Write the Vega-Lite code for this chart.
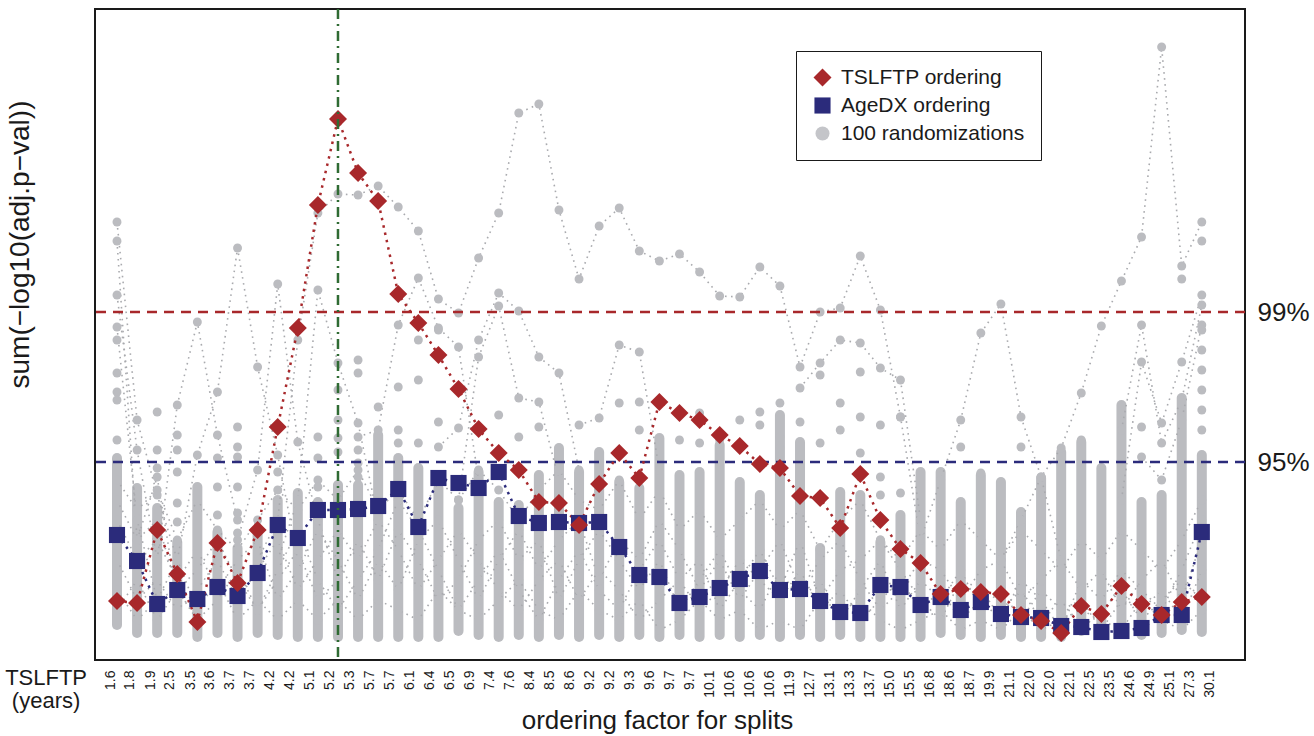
{
"$schema":"https://vega.github.io/schema/vega-lite/v6.json",
"width":1150,"height":651,
"autosize":{"type":"none"},
"padding":{"left":95,"top":9,"right":69,"bottom":76},
"background":"white",
"config":{"font":"Liberation Sans","view":{"stroke":"#1a1a1a","strokeWidth":2}},
"resolve":{"axis":{"x":"independent","y":"independent"}},
"datasets":{
"ord":[
{"c":1,"s":"AgeDX ordering","v":12.5},{"c":2,"s":"AgeDX ordering","v":9.9},{"c":3,"s":"AgeDX ordering","v":5.6},{"c":4,"s":"AgeDX ordering","v":7.0},{"c":5,"s":"AgeDX ordering","v":6.1},{"c":6,"s":"AgeDX ordering","v":7.3},{"c":7,"s":"AgeDX ordering","v":6.4},{"c":8,"s":"AgeDX ordering","v":8.7},{"c":9,"s":"AgeDX ordering","v":13.5},{"c":10,"s":"AgeDX ordering","v":12.2},
{"c":11,"s":"AgeDX ordering","v":15.0},{"c":12,"s":"AgeDX ordering","v":15.0},{"c":13,"s":"AgeDX ordering","v":15.1},{"c":14,"s":"AgeDX ordering","v":15.4},{"c":15,"s":"AgeDX ordering","v":17.1},{"c":16,"s":"AgeDX ordering","v":13.3},{"c":17,"s":"AgeDX ordering","v":18.2},{"c":18,"s":"AgeDX ordering","v":17.7},{"c":19,"s":"AgeDX ordering","v":17.2},{"c":20,"s":"AgeDX ordering","v":18.8},
{"c":21,"s":"AgeDX ordering","v":14.4},{"c":22,"s":"AgeDX ordering","v":13.7},{"c":23,"s":"AgeDX ordering","v":13.8},{"c":24,"s":"AgeDX ordering","v":13.7},{"c":25,"s":"AgeDX ordering","v":13.8},{"c":26,"s":"AgeDX ordering","v":11.3},{"c":27,"s":"AgeDX ordering","v":8.5},{"c":28,"s":"AgeDX ordering","v":8.3},{"c":29,"s":"AgeDX ordering","v":5.7},{"c":30,"s":"AgeDX ordering","v":6.3},
{"c":31,"s":"AgeDX ordering","v":7.2},{"c":32,"s":"AgeDX ordering","v":8.1},{"c":33,"s":"AgeDX ordering","v":8.9},{"c":34,"s":"AgeDX ordering","v":7.0},{"c":35,"s":"AgeDX ordering","v":7.1},{"c":36,"s":"AgeDX ordering","v":5.9},{"c":37,"s":"AgeDX ordering","v":4.8},{"c":38,"s":"AgeDX ordering","v":4.7},{"c":39,"s":"AgeDX ordering","v":7.5},{"c":40,"s":"AgeDX ordering","v":7.3},
{"c":41,"s":"AgeDX ordering","v":5.5},{"c":42,"s":"AgeDX ordering","v":6.3},{"c":43,"s":"AgeDX ordering","v":5.0},{"c":44,"s":"AgeDX ordering","v":5.8},{"c":45,"s":"AgeDX ordering","v":4.6},{"c":46,"s":"AgeDX ordering","v":4.3},{"c":47,"s":"AgeDX ordering","v":4.2},{"c":48,"s":"AgeDX ordering","v":3.4},{"c":49,"s":"AgeDX ordering","v":3.3},{"c":50,"s":"AgeDX ordering","v":2.8},
{"c":51,"s":"AgeDX ordering","v":2.9},{"c":52,"s":"AgeDX ordering","v":3.2},{"c":53,"s":"AgeDX ordering","v":4.5},{"c":54,"s":"AgeDX ordering","v":4.5},{"c":55,"s":"AgeDX ordering","v":12.8},
{"c":1,"s":"TSLFTP ordering","v":5.9},{"c":2,"s":"TSLFTP ordering","v":5.7},{"c":3,"s":"TSLFTP ordering","v":13.0},{"c":4,"s":"TSLFTP ordering","v":8.6},{"c":5,"s":"TSLFTP ordering","v":3.8},{"c":6,"s":"TSLFTP ordering","v":11.7},{"c":7,"s":"TSLFTP ordering","v":7.7},{"c":8,"s":"TSLFTP ordering","v":13.0},{"c":9,"s":"TSLFTP ordering","v":23.3},{"c":10,"s":"TSLFTP ordering","v":33.2},
{"c":11,"s":"TSLFTP ordering","v":45.5},{"c":12,"s":"TSLFTP ordering","v":54.1},{"c":13,"s":"TSLFTP ordering","v":48.7},{"c":14,"s":"TSLFTP ordering","v":45.9},{"c":15,"s":"TSLFTP ordering","v":36.6},{"c":16,"s":"TSLFTP ordering","v":33.7},{"c":17,"s":"TSLFTP ordering","v":30.5},{"c":18,"s":"TSLFTP ordering","v":27.1},{"c":19,"s":"TSLFTP ordering","v":23.1},{"c":20,"s":"TSLFTP ordering","v":20.7},
{"c":21,"s":"TSLFTP ordering","v":19.0},{"c":22,"s":"TSLFTP ordering","v":15.8},{"c":23,"s":"TSLFTP ordering","v":15.7},{"c":24,"s":"TSLFTP ordering","v":13.5},{"c":25,"s":"TSLFTP ordering","v":17.6},{"c":26,"s":"TSLFTP ordering","v":20.7},{"c":27,"s":"TSLFTP ordering","v":18.2},{"c":28,"s":"TSLFTP ordering","v":25.8},{"c":29,"s":"TSLFTP ordering","v":24.7},{"c":30,"s":"TSLFTP ordering","v":24.0},
{"c":31,"s":"TSLFTP ordering","v":22.5},{"c":32,"s":"TSLFTP ordering","v":21.4},{"c":33,"s":"TSLFTP ordering","v":19.6},{"c":34,"s":"TSLFTP ordering","v":19.2},{"c":35,"s":"TSLFTP ordering","v":16.4},{"c":36,"s":"TSLFTP ordering","v":16.2},{"c":37,"s":"TSLFTP ordering","v":13.2},{"c":38,"s":"TSLFTP ordering","v":18.6},{"c":39,"s":"TSLFTP ordering","v":14.0},{"c":40,"s":"TSLFTP ordering","v":11.1},
{"c":41,"s":"TSLFTP ordering","v":9.7},{"c":42,"s":"TSLFTP ordering","v":6.6},{"c":43,"s":"TSLFTP ordering","v":7.1},{"c":44,"s":"TSLFTP ordering","v":6.8},{"c":45,"s":"TSLFTP ordering","v":6.6},{"c":46,"s":"TSLFTP ordering","v":4.5},{"c":47,"s":"TSLFTP ordering","v":3.9},{"c":48,"s":"TSLFTP ordering","v":2.7},{"c":49,"s":"TSLFTP ordering","v":5.4},{"c":50,"s":"TSLFTP ordering","v":4.6},
{"c":51,"s":"TSLFTP ordering","v":7.4},{"c":52,"s":"TSLFTP ordering","v":5.6},{"c":53,"s":"TSLFTP ordering","v":4.5},{"c":54,"s":"TSLFTP ordering","v":5.8},{"c":55,"s":"TSLFTP ordering","v":6.3}
],
"bands":[
{"c":1,"lo":3.5,"hi":20.2},{"c":2,"lo":2.7,"hi":17.2},{"c":3,"lo":2.7,"hi":15.2},{"c":4,"lo":2.7,"hi":11.8},{"c":5,"lo":2.3,"hi":17.3},{"c":6,"lo":2.7,"hi":12.8},{"c":7,"lo":2.3,"hi":11.2},{"c":8,"lo":2.7,"hi":12.5},{"c":9,"lo":2.5,"hi":16.0},{"c":10,"lo":2.3,"hi":16.7},
{"c":11,"lo":2.3,"hi":15.8},{"c":12,"lo":2.3,"hi":17.5},{"c":13,"lo":2.3,"hi":17.5},{"c":14,"lo":2.3,"hi":22.5},{"c":15,"lo":2.3,"hi":20.2},{"c":16,"lo":2.3,"hi":19.2},{"c":17,"lo":2.3,"hi":17.2},{"c":18,"lo":2.9,"hi":15.2},{"c":19,"lo":2.5,"hi":18.8},{"c":20,"lo":2.3,"hi":15.8},
{"c":21,"lo":2.5,"hi":15.5},{"c":22,"lo":2.3,"hi":18.5},{"c":23,"lo":2.5,"hi":21.2},{"c":24,"lo":2.3,"hi":18.8},{"c":25,"lo":2.5,"hi":20.8},{"c":26,"lo":2.3,"hi":17.8},{"c":27,"lo":2.5,"hi":17.2},{"c":28,"lo":2.3,"hi":22.2},{"c":29,"lo":2.5,"hi":18.5},{"c":30,"lo":2.3,"hi":18.8},
{"c":31,"lo":2.5,"hi":21.5},{"c":32,"lo":2.3,"hi":17.8},{"c":33,"lo":2.5,"hi":16.5},{"c":34,"lo":2.3,"hi":24.5},{"c":35,"lo":2.5,"hi":21.8},{"c":36,"lo":2.3,"hi":11.2},{"c":37,"lo":2.5,"hi":16.8},{"c":38,"lo":2.3,"hi":16.5},{"c":39,"lo":2.3,"hi":11.8},{"c":40,"lo":2.3,"hi":14.5},
{"c":41,"lo":2.3,"hi":18.8},{"c":42,"lo":2.7,"hi":18.8},{"c":43,"lo":2.5,"hi":15.8},{"c":44,"lo":2.3,"hi":18.5},{"c":45,"lo":2.5,"hi":17.8},{"c":46,"lo":2.3,"hi":14.8},{"c":47,"lo":2.3,"hi":18.2},{"c":48,"lo":2.3,"hi":20.8},{"c":49,"lo":2.9,"hi":21.8},{"c":50,"lo":2.5,"hi":19.2},
{"c":51,"lo":2.8,"hi":25.5},{"c":52,"lo":2.5,"hi":15.8},{"c":53,"lo":2.7,"hi":16.5},{"c":54,"lo":3.0,"hi":26.2},{"c":55,"lo":2.8,"hi":20.5}
],
"runs":[
{"r":"A","c":8,"v":10.0},{"r":"A","c":9,"v":14.0},{"r":"A","c":10,"v":32.0},{"r":"A","c":11,"v":44.7},{"r":"A","c":12,"v":46.6},{"r":"A","c":13,"v":46.5},{"r":"A","c":14,"v":47.4},{"r":"A","c":15,"v":45.3},{"r":"A","c":16,"v":42.9},{"r":"A","c":17,"v":36.1},{"r":"A","c":18,"v":34.7},{"r":"A","c":19,"v":40.2},{"r":"A","c":20,"v":44.7},{"r":"A","c":21,"v":54.7},{"r":"A","c":22,"v":55.6},{"r":"A","c":23,"v":45.0},{"r":"A","c":24,"v":38.1},{"r":"A","c":25,"v":43.4},{"r":"A","c":26,"v":45.2},{"r":"A","c":27,"v":40.9},{"r":"A","c":28,"v":39.9},{"r":"A","c":29,"v":40.6},{"r":"A","c":30,"v":38.8},{"r":"A","c":31,"v":36.4},{"r":"A","c":32,"v":36.3},{"r":"A","c":33,"v":39.3},{"r":"A","c":34,"v":37.4},{"r":"A","c":35,"v":29.3},{"r":"A","c":36,"v":34.8},{"r":"A","c":37,"v":35.2},{"r":"A","c":38,"v":40.4},{"r":"A","c":39,"v":35.0},{"r":"A","c":40,"v":24.3},{"r":"A","c":41,"v":12.0},
{"r":"B","c":45,"v":10.0},{"r":"B","c":46,"v":14.0},{"r":"B","c":47,"v":18.3},{"r":"B","c":48,"v":21.2},{"r":"B","c":49,"v":26.7},{"r":"B","c":50,"v":33.4},{"r":"B","c":51,"v":37.9},{"r":"B","c":52,"v":42.3},{"r":"B","c":53,"v":61.3},{"r":"B","c":54,"v":39.4},{"r":"B","c":55,"v":43.8},
{"r":"C","c":1,"v":43.8},{"r":"C","c":2,"v":24.0},{"r":"C","c":3,"v":16.5},{"r":"C","c":4,"v":10.0},
{"r":"D","c":1,"v":41.9},{"r":"D","c":2,"v":12.0},{"r":"D","c":3,"v":18.3},{"r":"D","c":4,"v":6.0},
{"r":"E","c":4,"v":10.0},{"r":"E","c":5,"v":20.5},{"r":"E","c":6,"v":26.8},{"r":"E","c":7,"v":41.2},{"r":"E","c":8,"v":29.3},{"r":"E","c":9,"v":20.5},{"r":"E","c":10,"v":10.0},
{"r":"F","c":7,"v":12.0},{"r":"F","c":8,"v":19.0},{"r":"F","c":9,"v":37.6},{"r":"F","c":10,"v":21.8},{"r":"F","c":11,"v":14.0},{"r":"F","c":12,"v":8.0},
{"r":"G","c":9,"v":10.0},{"r":"G","c":10,"v":16.0},{"r":"G","c":11,"v":37.0},{"r":"G","c":12,"v":29.7},{"r":"G","c":13,"v":23.7},{"r":"G","c":14,"v":14.0},
{"r":"H","c":17,"v":21.3},{"r":"H","c":18,"v":23.2},{"r":"H","c":19,"v":32.0},{"r":"H","c":20,"v":36.7},{"r":"H","c":21,"v":34.9},{"r":"H","c":22,"v":30.3},{"r":"H","c":23,"v":28.7},{"r":"H","c":24,"v":19.0},
{"r":"I","c":18,"v":16.0},{"r":"I","c":19,"v":30.3},{"r":"I","c":20,"v":35.4},{"r":"I","c":21,"v":26.2},{"r":"I","c":22,"v":25.8},{"r":"I","c":23,"v":18.0},
{"r":"J","c":13,"v":22.3},{"r":"J","c":14,"v":23.0},{"r":"J","c":15,"v":33.5},{"r":"J","c":16,"v":38.2},{"r":"J","c":17,"v":33.2},{"r":"J","c":18,"v":31.3},{"r":"J","c":19,"v":18.0},
{"r":"K","c":3,"v":10.0},{"r":"K","c":4,"v":25.5},{"r":"K","c":5,"v":33.8},{"r":"K","c":6,"v":22.5},{"r":"K","c":7,"v":14.0},
{"r":"L","c":1,"v":36.5},{"r":"L","c":2,"v":21.0},{"r":"L","c":3,"v":10.0},
{"r":"M","c":1,"v":33.3},{"r":"M","c":2,"v":14.0},{"r":"M","c":3,"v":6.0},
{"r":"N","c":41,"v":12.0},{"r":"N","c":42,"v":18.0},{"r":"N","c":43,"v":24.0},{"r":"N","c":44,"v":32.7},{"r":"N","c":45,"v":35.6},{"r":"N","c":46,"v":24.3},{"r":"N","c":47,"v":18.3},{"r":"N","c":48,"v":10.0},
{"r":"O","c":51,"v":16.0},{"r":"O","c":52,"v":29.8},{"r":"O","c":53,"v":23.7},{"r":"O","c":54,"v":29.8},{"r":"O","c":55,"v":36.5},
{"r":"P","c":51,"v":23.0},{"r":"P","c":52,"v":33.5},{"r":"P","c":53,"v":21.7},{"r":"P","c":54,"v":26.0},{"r":"P","c":55,"v":35.5},
{"r":"Q","c":52,"v":20.3},{"r":"Q","c":53,"v":18.0},{"r":"Q","c":54,"v":24.0},{"r":"Q","c":55,"v":33.5},
{"r":"R","c":35,"v":27.2},{"r":"R","c":36,"v":29.7},{"r":"R","c":37,"v":32.0},{"r":"R","c":38,"v":31.7},{"r":"R","c":39,"v":29.2},{"r":"R","c":40,"v":28.0},{"r":"R","c":41,"v":14.0},
{"r":"S","c":24,"v":23.5},{"r":"S","c":25,"v":24.2},{"r":"S","c":26,"v":31.5},{"r":"S","c":27,"v":30.8},{"r":"S","c":28,"v":19.0},
{"r":"F1","c":1,"v":10},{"r":"F1","c":2,"v":6},{"r":"F1","c":3,"v":8},{"r":"F1","c":4,"v":5},{"r":"F1","c":5,"v":7},{"r":"F1","c":6,"v":10},{"r":"F1","c":7,"v":6},{"r":"F1","c":8,"v":9},{"r":"F1","c":9,"v":12},{"r":"F1","c":10,"v":7},{"r":"F1","c":11,"v":10},{"r":"F1","c":12,"v":13},{"r":"F1","c":13,"v":10},{"r":"F1","c":14,"v":14},{"r":"F1","c":15,"v":11},{"r":"F1","c":16,"v":7},{"r":"F1","c":17,"v":10},{"r":"F1","c":18,"v":13},{"r":"F1","c":19,"v":10},{"r":"F1","c":20,"v":7},{"r":"F1","c":21,"v":5},{"r":"F1","c":22,"v":8},{"r":"F1","c":23,"v":10},{"r":"F1","c":24,"v":6},{"r":"F1","c":25,"v":9},{"r":"F1","c":26,"v":7},{"r":"F1","c":27,"v":4},{"r":"F1","c":28,"v":6},{"r":"F1","c":29,"v":8},{"r":"F1","c":30,"v":5},{"r":"F1","c":31,"v":7},{"r":"F1","c":32,"v":10},{"r":"F1","c":33,"v":8},{"r":"F1","c":34,"v":6},{"r":"F1","c":35,"v":9},{"r":"F1","c":36,"v":5},{"r":"F1","c":37,"v":7},{"r":"F1","c":38,"v":4},{"r":"F1","c":39,"v":6},{"r":"F1","c":40,"v":8},{"r":"F1","c":41,"v":5},{"r":"F1","c":42,"v":7},{"r":"F1","c":43,"v":4},{"r":"F1","c":44,"v":6},{"r":"F1","c":45,"v":5},{"r":"F1","c":46,"v":7},{"r":"F1","c":47,"v":4},{"r":"F1","c":48,"v":6},{"r":"F1","c":49,"v":3},{"r":"F1","c":50,"v":5},{"r":"F1","c":51,"v":7},{"r":"F1","c":52,"v":4},{"r":"F1","c":53,"v":6},{"r":"F1","c":54,"v":8},{"r":"F1","c":55,"v":6},
{"r":"F2","c":1,"v":5},{"r":"F2","c":2,"v":8},{"r":"F2","c":3,"v":4},{"r":"F2","c":4,"v":7},{"r":"F2","c":5,"v":4},{"r":"F2","c":6,"v":6},{"r":"F2","c":7,"v":9},{"r":"F2","c":8,"v":5},{"r":"F2","c":9,"v":8},{"r":"F2","c":10,"v":11},{"r":"F2","c":11,"v":6},{"r":"F2","c":12,"v":8},{"r":"F2","c":13,"v":12},{"r":"F2","c":14,"v":8},{"r":"F2","c":15,"v":13},{"r":"F2","c":16,"v":10},{"r":"F2","c":17,"v":6},{"r":"F2","c":18,"v":8},{"r":"F2","c":19,"v":12},{"r":"F2","c":20,"v":14},{"r":"F2","c":21,"v":10},{"r":"F2","c":22,"v":12},{"r":"F2","c":23,"v":6},{"r":"F2","c":24,"v":10},{"r":"F2","c":25,"v":13},{"r":"F2","c":26,"v":10},{"r":"F2","c":27,"v":7},{"r":"F2","c":28,"v":10},{"r":"F2","c":29,"v":5},{"r":"F2","c":30,"v":8},{"r":"F2","c":31,"v":11},{"r":"F2","c":32,"v":7},{"r":"F2","c":33,"v":5},{"r":"F2","c":34,"v":9},{"r":"F2","c":35,"v":6},{"r":"F2","c":36,"v":8},{"r":"F2","c":37,"v":4},{"r":"F2","c":38,"v":7},{"r":"F2","c":39,"v":10},{"r":"F2","c":40,"v":5},{"r":"F2","c":41,"v":8},{"r":"F2","c":42,"v":6},{"r":"F2","c":43,"v":9},{"r":"F2","c":44,"v":5},{"r":"F2","c":45,"v":7},{"r":"F2","c":46,"v":4},{"r":"F2","c":47,"v":7},{"r":"F2","c":48,"v":5},{"r":"F2","c":49,"v":6},{"r":"F2","c":50,"v":3},{"r":"F2","c":51,"v":6},{"r":"F2","c":52,"v":5},{"r":"F2","c":53,"v":7},{"r":"F2","c":54,"v":4},{"r":"F2","c":55,"v":9},
{"r":"F3","c":1,"v":14},{"r":"F3","c":2,"v":10},{"r":"F3","c":3,"v":12},{"r":"F3","c":4,"v":8},{"r":"F3","c":5,"v":11},{"r":"F3","c":6,"v":7},{"r":"F3","c":7,"v":10},{"r":"F3","c":8,"v":12},{"r":"F3","c":9,"v":6},{"r":"F3","c":10,"v":9},{"r":"F3","c":11,"v":13},{"r":"F3","c":12,"v":10},{"r":"F3","c":13,"v":6},{"r":"F3","c":14,"v":10},{"r":"F3","c":15,"v":7},{"r":"F3","c":16,"v":12},{"r":"F3","c":17,"v":14},{"r":"F3","c":18,"v":10},{"r":"F3","c":19,"v":6},{"r":"F3","c":20,"v":10},{"r":"F3","c":21,"v":13},{"r":"F3","c":22,"v":9},{"r":"F3","c":23,"v":12},{"r":"F3","c":24,"v":14},{"r":"F3","c":25,"v":8},{"r":"F3","c":26,"v":12},{"r":"F3","c":27,"v":10},{"r":"F3","c":28,"v":14},{"r":"F3","c":29,"v":11},{"r":"F3","c":30,"v":7},{"r":"F3","c":31,"v":10},{"r":"F3","c":32,"v":6},{"r":"F3","c":33,"v":9},{"r":"F3","c":34,"v":12},{"r":"F3","c":35,"v":7},{"r":"F3","c":36,"v":10},{"r":"F3","c":37,"v":12},{"r":"F3","c":38,"v":8},{"r":"F3","c":39,"v":5},{"r":"F3","c":40,"v":7},{"r":"F3","c":41,"v":10},{"r":"F3","c":42,"v":9},{"r":"F3","c":43,"v":6},{"r":"F3","c":44,"v":9},{"r":"F3","c":45,"v":10},{"r":"F3","c":46,"v":6},{"r":"F3","c":47,"v":8},{"r":"F3","c":48,"v":10},{"r":"F3","c":49,"v":7},{"r":"F3","c":50,"v":9},{"r":"F3","c":51,"v":5},{"r":"F3","c":52,"v":8},{"r":"F3","c":53,"v":10},{"r":"F3","c":54,"v":6},{"r":"F3","c":55,"v":12},
{"r":"F4","c":1,"v":7},{"r":"F4","c":2,"v":4},{"r":"F4","c":3,"v":6},{"r":"F4","c":4,"v":10},{"r":"F4","c":5,"v":5},{"r":"F4","c":6,"v":8},{"r":"F4","c":7,"v":4},{"r":"F4","c":8,"v":6},{"r":"F4","c":9,"v":4},{"r":"F4","c":10,"v":6},{"r":"F4","c":11,"v":4},{"r":"F4","c":12,"v":6},{"r":"F4","c":13,"v":4},{"r":"F4","c":14,"v":6},{"r":"F4","c":15,"v":5},{"r":"F4","c":16,"v":4},{"r":"F4","c":17,"v":7},{"r":"F4","c":18,"v":5},{"r":"F4","c":19,"v":4},{"r":"F4","c":20,"v":6},{"r":"F4","c":21,"v":8},{"r":"F4","c":22,"v":5},{"r":"F4","c":23,"v":4},{"r":"F4","c":24,"v":7},{"r":"F4","c":25,"v":5},{"r":"F4","c":26,"v":4},{"r":"F4","c":27,"v":6},{"r":"F4","c":28,"v":3},{"r":"F4","c":29,"v":4},{"r":"F4","c":30,"v":6},{"r":"F4","c":31,"v":4},{"r":"F4","c":32,"v":5},{"r":"F4","c":33,"v":3},{"r":"F4","c":34,"v":4},{"r":"F4","c":35,"v":3},{"r":"F4","c":36,"v":6},{"r":"F4","c":37,"v":5},{"r":"F4","c":38,"v":6},{"r":"F4","c":39,"v":4},{"r":"F4","c":40,"v":3},{"r":"F4","c":41,"v":4},{"r":"F4","c":42,"v":5},{"r":"F4","c":43,"v":3},{"r":"F4","c":44,"v":4},{"r":"F4","c":45,"v":3},{"r":"F4","c":46,"v":5},{"r":"F4","c":47,"v":3},{"r":"F4","c":48,"v":4},{"r":"F4","c":49,"v":5},{"r":"F4","c":50,"v":4},{"r":"F4","c":51,"v":3},{"r":"F4","c":52,"v":6},{"r":"F4","c":53,"v":4},{"r":"F4","c":54,"v":3},{"r":"F4","c":55,"v":5},
{"r":"F5","c":1,"v":16},{"r":"F5","c":2,"v":12},{"r":"F5","c":3,"v":14},{"r":"F5","c":4,"v":7},{"r":"F5","c":5,"v":9},{"r":"F5","c":6,"v":12},{"r":"F5","c":7,"v":8},{"r":"F5","c":8,"v":5},{"r":"F5","c":9,"v":9},{"r":"F5","c":10,"v":13},{"r":"F5","c":11,"v":8},{"r":"F5","c":12,"v":5},{"r":"F5","c":13,"v":8},{"r":"F5","c":14,"v":11},{"r":"F5","c":15,"v":16},{"r":"F5","c":16,"v":13},{"r":"F5","c":17,"v":9},{"r":"F5","c":18,"v":5},{"r":"F5","c":19,"v":8},{"r":"F5","c":20,"v":11},{"r":"F5","c":21,"v":7},{"r":"F5","c":22,"v":4},{"r":"F5","c":23,"v":8},{"r":"F5","c":24,"v":11},{"r":"F5","c":25,"v":7},{"r":"F5","c":26,"v":5},{"r":"F5","c":27,"v":9},{"r":"F5","c":28,"v":12},{"r":"F5","c":29,"v":8},{"r":"F5","c":30,"v":10},{"r":"F5","c":31,"v":5},{"r":"F5","c":32,"v":8},{"r":"F5","c":33,"v":11},{"r":"F5","c":34,"v":7},{"r":"F5","c":35,"v":12},{"r":"F5","c":36,"v":6},{"r":"F5","c":37,"v":9},{"r":"F5","c":38,"v":10},{"r":"F5","c":39,"v":12},{"r":"F5","c":40,"v":9},{"r":"F5","c":41,"v":6},{"r":"F5","c":42,"v":4},{"r":"F5","c":43,"v":8},{"r":"F5","c":44,"v":6},{"r":"F5","c":45,"v":4},{"r":"F5","c":46,"v":8},{"r":"F5","c":47,"v":6},{"r":"F5","c":48,"v":3},{"r":"F5","c":49,"v":8},{"r":"F5","c":50,"v":6},{"r":"F5","c":51,"v":9},{"r":"F5","c":52,"v":7},{"r":"F5","c":53,"v":5},{"r":"F5","c":54,"v":9},{"r":"F5","c":55,"v":14},
{"r":"F6","c":1,"v":18},{"r":"F6","c":2,"v":15},{"r":"F6","c":3,"v":17},{"r":"F6","c":4,"v":12},{"r":"F6","c":5,"v":16},{"r":"F6","c":6,"v":13},{"r":"F6","c":7,"v":11},{"r":"F6","c":8,"v":14},{"r":"F6","c":9,"v":17},{"r":"F6","c":10,"v":15},{"r":"F6","c":11,"v":18},{"r":"F6","c":12,"v":16},{"r":"F6","c":13,"v":19},{"r":"F6","c":14,"v":15},{"r":"F6","c":15,"v":17},{"r":"F6","c":16,"v":14},{"r":"F6","c":17,"v":18},{"r":"F6","c":18,"v":16},{"r":"F6","c":19,"v":19},{"r":"F6","c":20,"v":17},{"r":"F6","c":21,"v":14},{"r":"F6","c":22,"v":17},{"r":"F6","c":23,"v":19},{"r":"F6","c":24,"v":16},{"r":"F6","c":25,"v":15},{"r":"F6","c":26,"v":18},{"r":"F6","c":27,"v":14},{"r":"F6","c":28,"v":17},{"r":"F6","c":29,"v":13},{"r":"F6","c":30,"v":15},{"r":"F6","c":31,"v":12},{"r":"F6","c":32,"v":14},{"r":"F6","c":33,"v":16},{"r":"F6","c":34,"v":13},{"r":"F6","c":35,"v":15},{"r":"F6","c":36,"v":11},{"r":"F6","c":37,"v":14},{"r":"F6","c":38,"v":16},{"r":"F6","c":39,"v":12},{"r":"F6","c":40,"v":10},{"r":"F6","c":41,"v":13},{"r":"F6","c":42,"v":11},{"r":"F6","c":43,"v":14},{"r":"F6","c":44,"v":12},{"r":"F6","c":45,"v":10},{"r":"F6","c":46,"v":13},{"r":"F6","c":47,"v":11},{"r":"F6","c":48,"v":9},{"r":"F6","c":49,"v":12},{"r":"F6","c":50,"v":10},{"r":"F6","c":51,"v":13},{"r":"F6","c":52,"v":11},{"r":"F6","c":53,"v":9},{"r":"F6","c":54,"v":12},{"r":"F6","c":55,"v":16}
],
"extra":[
{"c":1,"v":32.0},{"c":1,"v":28.7},{"c":1,"v":26.8},{"c":1,"v":26.0},{"c":1,"v":22.0},
{"c":3,"v":24.8},{"c":3,"v":21.0},{"c":3,"v":19.2},
{"c":4,"v":22.5},{"c":4,"v":21.0},{"c":4,"v":18.8},{"c":4,"v":15.7},{"c":4,"v":13.8},
{"c":6,"v":20.2},{"c":6,"v":17.3},{"c":6,"v":14.5},
{"c":7,"v":23.3},{"c":7,"v":21.3},{"c":7,"v":20.3},{"c":7,"v":17.3},{"c":7,"v":14.7},{"c":7,"v":12.7},
{"c":9,"v":18.8},
{"c":11,"v":22.3},{"c":11,"v":20.2},{"c":11,"v":17.3},
{"c":12,"v":27.0},{"c":12,"v":24.0},{"c":12,"v":22.2},{"c":12,"v":20.8},
{"c":13,"v":30.0},{"c":13,"v":28.7},{"c":13,"v":21.0},{"c":13,"v":19.7},{"c":13,"v":18.3},
{"c":14,"v":25.3},
{"c":15,"v":27.3},{"c":15,"v":23.0},{"c":15,"v":21.7},
{"c":16,"v":32.0},{"c":16,"v":28.0},{"c":16,"v":21.7},{"c":16,"v":14.8},
{"c":17,"v":33.0},{"c":17,"v":23.8},
{"c":20,"v":24.5},{"c":21,"v":22.3},{"c":22,"v":23.3},{"c":26,"v":25.7},
{"c":27,"v":25.8},{"c":27,"v":23.0},{"c":29,"v":22.0},
{"c":30,"v":24.7},{"c":30,"v":21.7},{"c":31,"v":22.0},{"c":32,"v":24.0},
{"c":33,"v":24.8},{"c":33,"v":23.5},
{"c":34,"v":25.7},{"c":34,"v":22.3},{"c":34,"v":21.2},
{"c":35,"v":23.8},{"c":36,"v":28.5},{"c":36,"v":21.7},
{"c":37,"v":25.7},{"c":37,"v":23.0},
{"c":38,"v":28.8},{"c":38,"v":24.3},{"c":38,"v":20.7},
{"c":39,"v":23.5},{"c":39,"v":18.3},{"c":39,"v":16.5},
{"c":40,"v":24.3},{"c":40,"v":16.7},
{"c":43,"v":21.3},{"c":44,"v":18.7},{"c":46,"v":21.3},{"c":49,"v":22.0},{"c":52,"v":23.3},{"c":54,"v":38.1},
{"c":55,"v":41.9},{"c":55,"v":33.0},{"c":55,"v":31.0},{"c":55,"v":29.0},{"c":55,"v":27.0},{"c":55,"v":25.0},{"c":55,"v":23.0}
]
},
"layer":[
{"data":{"name":"bands"},
 "mark":{"type":"rule","strokeWidth":10,"strokeCap":"round","color":"#BBBCC0"},
 "encoding":{
  "x":{"field":"c","type":"quantitative","scale":{"domain":[-0.095,57.15],"nice":false,"zero":false},
   "axis":{"orient":"bottom","title":"ordering factor for splits","titleFontSize":26,"titleFontWeight":"normal","titleColor":"#1a1a1a","titleBaseline":"alphabetic","titleY":68,"titleX":562,
    "values":[0.652,1.647,2.643,3.638,4.634,5.629,6.625,7.620,8.616,9.611,10.607,11.602,12.598,13.593,14.589,15.584,16.580,17.575,18.571,19.566,20.562,21.557,22.553,23.548,24.544,25.540,26.535,27.531,28.526,29.522,30.517,31.513,32.508,33.504,34.499,35.495,36.490,37.486,38.481,39.477,40.472,41.468,42.463,43.459,44.454,45.450,46.445,47.441,48.436,49.432,50.428,51.423,52.419,53.414,54.410,55.405],
    "labelExpr":"['1.6','1.8','1.9','2.5','3.5','3.6','3.7','3.7','4.2','4.2','5.1','5.2','5.3','5.7','5.7','6.1','6.4','6.5','6.9','7.4','7.6','8.4','8.5','8.6','9.2','9.2','9.3','9.6','9.7','9.7','10.1','10.6','10.6','10.6','11.9','12.7','13.1','13.3','13.7','15.0','15.5','16.8','18.6','18.7','19.9','21.1','22.0','22.0','22.1','22.5','23.5','24.6','24.9','25.1','27.3','30.1'][round((datum.value-0.652)/0.99553)]",
    "labelAngle":270,"labelFontSize":14,"labelColor":"#1a1a1a","labelPadding":10,"labelOverlap":false,"labelFlush":false,"labelBound":false,
    "ticks":false,"domain":false,"grid":false}},
  "y":{"field":"lo","type":"quantitative","scale":{"domain":[0,65.1],"nice":false,"zero":false},
   "axis":{"orient":"left","title":"sum(−log10(adj.p−val))","titleFontSize":28,"titleFontWeight":"normal","titleColor":"#1a1a1a","titleAngle":270,"titleBaseline":"middle","titleAlign":"center","titleX":-75,"titleY":235,
    "labels":false,"ticks":false,"domain":false,"grid":false}},
  "y2":{"field":"hi"}}},
{"data":{"name":"runs"},
 "mark":{"type":"line","color":"#A9AAAE","strokeWidth":1.6,"strokeDash":[1.6,4.4]},
 "encoding":{
  "x":{"field":"c","type":"quantitative","scale":{"domain":[-0.095,57.15],"nice":false,"zero":false},"axis":null},
  "y":{"field":"v","type":"quantitative","scale":{"domain":[0,65.1],"nice":false,"zero":false},"axis":null},
  "detail":{"field":"r"}}},
{"data":{"name":"runs"},
 "mark":{"type":"point","shape":"circle","filled":true,"size":80,"opacity":1,"color":"#BBBCC0"},
 "encoding":{
  "x":{"field":"c","type":"quantitative","scale":{"domain":[-0.095,57.15],"nice":false,"zero":false},"axis":null},
  "y":{"field":"v","type":"quantitative","scale":{"domain":[0,65.1],"nice":false,"zero":false},"axis":null}}},
{"data":{"name":"extra"},
 "mark":{"type":"point","shape":"circle","filled":true,"size":80,"opacity":1,"color":"#BBBCC0"},
 "encoding":{
  "x":{"field":"c","type":"quantitative","scale":{"domain":[-0.095,57.15],"nice":false,"zero":false},"axis":null},
  "y":{"field":"v","type":"quantitative","scale":{"domain":[0,65.1],"nice":false,"zero":false},"axis":null}}},
{"data":{"values":[{}]},
 "mark":{"type":"rule","color":"#A8282B","strokeWidth":2.5,"strokeDash":[10,7]},
 "encoding":{"y":{"datum":34.8,"type":"quantitative","scale":{"domain":[0,65.1],"nice":false,"zero":false},
   "axis":{"orient":"right","values":[19.8,34.8],"labelExpr":"datum.value > 30 ? '99%' : '95%'","labelFontSize":26,"labelColor":"#1a1a1a","labelPadding":12,"labelAlign":"left","labelBaseline":"middle","ticks":false,"domain":false,"grid":false,"title":null}}}},
{"data":{"values":[{}]},
 "mark":{"type":"rule","color":"#2B2B7B","strokeWidth":2.5,"strokeDash":[10,7]},
 "encoding":{"y":{"datum":19.8,"type":"quantitative","scale":{"domain":[0,65.1],"nice":false,"zero":false},"axis":null}}},
{"data":{"name":"ord"},
 "transform":[{"filter":"datum.s == 'AgeDX ordering'"}],
 "mark":{"type":"line","color":"#2B2B7B","strokeWidth":2.5,"strokeDash":[2.5,5]},
 "encoding":{
  "x":{"field":"c","type":"quantitative","scale":{"domain":[-0.095,57.15],"nice":false,"zero":false},"axis":null},
  "y":{"field":"v","type":"quantitative","scale":{"domain":[0,65.1],"nice":false,"zero":false},"axis":null}}},
{"data":{"name":"ord"},
 "transform":[{"filter":"datum.s == 'TSLFTP ordering'"}],
 "mark":{"type":"line","color":"#A8282B","strokeWidth":2.5,"strokeDash":[2.5,5]},
 "encoding":{
  "x":{"field":"c","type":"quantitative","scale":{"domain":[-0.095,57.15],"nice":false,"zero":false},"axis":null},
  "y":{"field":"v","type":"quantitative","scale":{"domain":[0,65.1],"nice":false,"zero":false},"axis":null}}},
{"data":{"name":"ord"},
 "mark":{"type":"point","filled":true,"opacity":1,"strokeWidth":0},
 "encoding":{
  "x":{"field":"c","type":"quantitative","scale":{"domain":[-0.095,57.15],"nice":false,"zero":false},"axis":null},
  "y":{"field":"v","type":"quantitative","scale":{"domain":[0,65.1],"nice":false,"zero":false},"axis":null},
  "color":{"field":"s","type":"nominal","scale":{"domain":["TSLFTP ordering","AgeDX ordering","100 randomizations"],"range":["#A8282B","#2B2B7B","#C4C5C9"]},
   "legend":{"title":null,"orient":"none","legendX":701,"legendY":42,"strokeColor":"#1a1a1a","fillColor":"white","padding":16,"labelFontSize":21,"labelLimit":400,"labelColor":"#1a1a1a","rowPadding":6,"labelOffset":8,"symbolStrokeWidth":0}},
  "shape":{"field":"s","type":"nominal","scale":{"domain":["TSLFTP ordering","AgeDX ordering","100 randomizations"],"range":["diamond","square","circle"]}},
  "size":{"field":"s","type":"nominal","scale":{"domain":["TSLFTP ordering","AgeDX ordering","100 randomizations"],"range":[324,196,90]}}}},
{"data":{"values":[{}]},
 "mark":{"type":"text","text":["TSLFTP","(years)"],"fontSize":22,"lineHeight":23,"align":"center","baseline":"alphabetic","color":"#1a1a1a"},
 "encoding":{
  "x":{"datum":-2.53,"type":"quantitative","scale":{"domain":[-0.095,57.15],"nice":false,"zero":false},"axis":null},
  "y":{"datum":-2.5,"type":"quantitative","scale":{"domain":[0,65.1],"nice":false,"zero":false},"axis":null}}},
{"data":{"values":[{}]},
 "mark":{"type":"rule","color":"#2F6B33","strokeWidth":2.5,"strokeDash":[10,5,2,5]},
 "encoding":{"x":{"datum":12,"type":"quantitative","scale":{"domain":[-0.095,57.15],"nice":false,"zero":false},"axis":null}}}
]
}
